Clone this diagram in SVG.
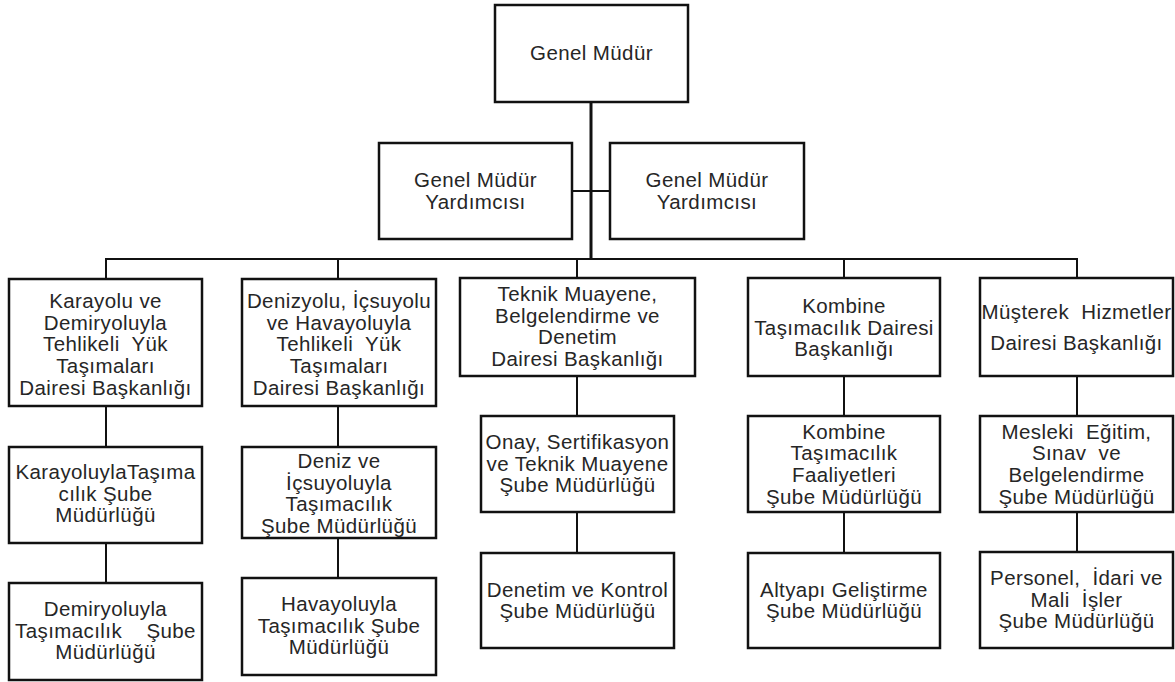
<svg xmlns="http://www.w3.org/2000/svg" width="1175" height="682" viewBox="0 0 1175 682">
  <style>
    .box { fill: #ffffff; stroke: #111111; stroke-width: 2.5; }
    .lbl { font-family: "Liberation Sans", Arial, sans-serif; font-size: 20.5px; letter-spacing: 0.4px; fill: #262626; text-anchor: middle; }
    .ln { stroke: #111111; stroke-width: 2; fill: none; }
    .trunk { stroke: #111111; stroke-width: 3; fill: none; }
  </style>
  <rect width="1175" height="682" fill="#ffffff"/>

  <!-- connectors -->
  <g id="connectors">
    <line class="trunk" x1="591" y1="102" x2="591" y2="260"/>
    <line class="ln" x1="572" y1="191" x2="610" y2="191"/>
    <polyline class="ln" points="106,279 106,259 1077,259 1077,278"/>
    <line class="ln" x1="338" y1="259" x2="338" y2="279"/>
    <line class="ln" x1="577" y1="259" x2="577" y2="278"/>
    <line class="ln" x1="844" y1="259" x2="844" y2="278"/>
    <!-- column 1 -->
    <line class="ln" x1="106" y1="406" x2="106" y2="447"/>
    <line class="ln" x1="106" y1="543" x2="106" y2="583"/>
    <!-- column 2 -->
    <line class="ln" x1="338" y1="406" x2="338" y2="447"/>
    <line class="ln" x1="338" y1="538" x2="338" y2="578"/>
    <!-- column 3 -->
    <line class="ln" x1="577" y1="376" x2="577" y2="416"/>
    <line class="ln" x1="577" y1="512" x2="577" y2="553"/>
    <!-- column 4 -->
    <line class="ln" x1="844" y1="376" x2="844" y2="416"/>
    <line class="ln" x1="844" y1="512" x2="844" y2="553"/>
    <!-- column 5 -->
    <line class="ln" x1="1077" y1="376" x2="1077" y2="416"/>
    <line class="ln" x1="1077" y1="512" x2="1077" y2="552"/>
  </g>

  <!-- top management -->
  <g id="genel-mudur">
    <rect class="box" x="495" y="5" width="193" height="97"/>
    <text class="lbl" x="591.5" y="60">Genel Müdür</text>
  </g>
  <g id="gmy-left">
    <rect class="box" x="379" y="143" width="193" height="96"/>
    <text class="lbl" x="475.5" y="187">Genel Müdür</text>
    <text class="lbl" x="475.5" y="208.7">Yardımcısı</text>
  </g>
  <g id="gmy-right">
    <rect class="box" x="610" y="143" width="194" height="96"/>
    <text class="lbl" x="707" y="187">Genel Müdür</text>
    <text class="lbl" x="707" y="208.7">Yardımcısı</text>
  </g>

  <!-- column 1 -->
  <g id="karayolu-dairesi">
    <rect class="box" x="9" y="279" width="193" height="127"/>
    <text class="lbl" x="105.5" y="308">Karayolu ve</text>
    <text class="lbl" x="105.5" y="329.7">Demiryoluyla</text>
    <text class="lbl" x="105.5" y="351.4">Tehlikeli&#160; Yük</text>
    <text class="lbl" x="105.5" y="373.1">Taşımaları</text>
    <text class="lbl" x="105.5" y="394.8">Dairesi Başkanlığı</text>
  </g>
  <g id="karayolu-sube">
    <rect class="box" x="9" y="447" width="193" height="96"/>
    <text class="lbl" x="105.5" y="479">KarayoluylaTaşıma</text>
    <text class="lbl" x="105.5" y="500.7">cılık Şube</text>
    <text class="lbl" x="105.5" y="522.4">Müdürlüğü</text>
  </g>
  <g id="demiryolu-sube">
    <rect class="box" x="9" y="583" width="193" height="97"/>
    <text class="lbl" x="105.5" y="616">Demiryoluyla</text>
    <text class="lbl" x="105.5" y="637.7">Taşımacılık&#160;&#160;&#160; Şube</text>
    <text class="lbl" x="105.5" y="659.4">Müdürlüğü</text>
  </g>

  <!-- column 2 -->
  <g id="denizyolu-dairesi">
    <rect class="box" x="242" y="279" width="194" height="127"/>
    <text class="lbl" x="339" y="308">Denizyolu, İçsuyolu</text>
    <text class="lbl" x="339" y="329.7">ve Havayoluyla</text>
    <text class="lbl" x="339" y="351.4">Tehlikeli&#160; Yük</text>
    <text class="lbl" x="339" y="373.1">Taşımaları</text>
    <text class="lbl" x="339" y="394.8">Dairesi Başkanlığı</text>
  </g>
  <g id="deniz-sube">
    <rect class="box" x="242" y="447" width="194" height="91"/>
    <text class="lbl" x="339" y="468">Deniz ve</text>
    <text class="lbl" x="339" y="489.7">İçsuyoluyla</text>
    <text class="lbl" x="339" y="511.4">Taşımacılık</text>
    <text class="lbl" x="339" y="533.1">Şube Müdürlüğü</text>
  </g>
  <g id="havayolu-sube">
    <rect class="box" x="242" y="578" width="194" height="97"/>
    <text class="lbl" x="339" y="611">Havayoluyla</text>
    <text class="lbl" x="339" y="632.7">Taşımacılık Şube</text>
    <text class="lbl" x="339" y="654.4">Müdürlüğü</text>
  </g>

  <!-- column 3 -->
  <g id="teknik-dairesi">
    <rect class="box" x="460" y="278" width="235" height="98"/>
    <text class="lbl" x="577.5" y="301">Teknik Muayene,</text>
    <text class="lbl" x="577.5" y="322.7">Belgelendirme ve</text>
    <text class="lbl" x="577.5" y="344.4">Denetim</text>
    <text class="lbl" x="577.5" y="366.1">Dairesi Başkanlığı</text>
  </g>
  <g id="onay-sube">
    <rect class="box" x="481" y="416" width="193" height="96"/>
    <text class="lbl" x="577.5" y="449">Onay, Sertifikasyon</text>
    <text class="lbl" x="577.5" y="470.7">ve Teknik Muayene</text>
    <text class="lbl" x="577.5" y="492.4">Şube Müdürlüğü</text>
  </g>
  <g id="denetim-sube">
    <rect class="box" x="481" y="553" width="193" height="95"/>
    <text class="lbl" x="577.5" y="596.6">Denetim ve Kontrol</text>
    <text class="lbl" x="577.5" y="618.3">Şube Müdürlüğü</text>
  </g>

  <!-- column 4 -->
  <g id="kombine-dairesi">
    <rect class="box" x="748" y="278" width="192" height="98"/>
    <text class="lbl" x="844" y="313">Kombine</text>
    <text class="lbl" x="844" y="334.7">Taşımacılık Dairesi</text>
    <text class="lbl" x="844" y="356.4">Başkanlığı</text>
  </g>
  <g id="kombine-sube">
    <rect class="box" x="748" y="416" width="192" height="96"/>
    <text class="lbl" x="844" y="438.5">Kombine</text>
    <text class="lbl" x="844" y="460.2">Taşımacılık</text>
    <text class="lbl" x="844" y="481.9">Faaliyetleri</text>
    <text class="lbl" x="844" y="503.6">Şube Müdürlüğü</text>
  </g>
  <g id="altyapi-sube">
    <rect class="box" x="748" y="553" width="192" height="95"/>
    <text class="lbl" x="844" y="596.6">Altyapı Geliştirme</text>
    <text class="lbl" x="844" y="618.3">Şube Müdürlüğü</text>
  </g>

  <!-- column 5 -->
  <g id="musterek-dairesi">
    <rect class="box" x="980" y="278" width="193" height="98"/>
    <text class="lbl" x="1076.5" y="319">Müşterek&#160; Hizmetler</text>
    <text class="lbl" x="1076.5" y="350">Dairesi Başkanlığı</text>
  </g>
  <g id="mesleki-sube">
    <rect class="box" x="980" y="416" width="193" height="96"/>
    <text class="lbl" x="1076.5" y="438.5">Mesleki&#160; Eğitim,</text>
    <text class="lbl" x="1076.5" y="460.2">Sınav&#160; ve</text>
    <text class="lbl" x="1076.5" y="481.9">Belgelendirme</text>
    <text class="lbl" x="1076.5" y="503.6">Şube Müdürlüğü</text>
  </g>
  <g id="personel-sube">
    <rect class="box" x="980" y="552" width="193" height="96"/>
    <text class="lbl" x="1076.5" y="585">Personel,&#160; İdari ve</text>
    <text class="lbl" x="1076.5" y="606.7">Mali&#160; İşler</text>
    <text class="lbl" x="1076.5" y="628.4">Şube Müdürlüğü</text>
  </g>
</svg>
